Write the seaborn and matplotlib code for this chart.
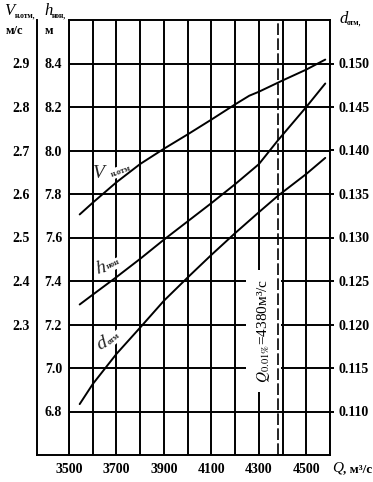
import numpy as np
import pandas as pd
import matplotlib
matplotlib.use("Agg")
import matplotlib.pyplot as plt
import seaborn as sns

# ---- data ----
q_v = [3545, 3600, 3700, 3800, 3900, 4000, 4100, 4200, 4260, 4300, 4400, 4500, 4580]
v_otm = [2.553, 2.580, 2.627, 2.669, 2.704, 2.737, 2.771, 2.806, 2.826, 2.835, 2.861, 2.886, 2.909]

q_h = [3545, 3600, 3700, 3800, 3900, 4000, 4100, 4200, 4300, 4380, 4500, 4580]
h_non = [7.292, 7.337, 7.418, 7.502, 7.590, 7.674, 7.758, 7.845, 7.937, 8.046, 8.200, 8.308]

q_d = [3545, 3600, 3700, 3800, 3900, 4000, 4100, 4200, 4300, 4380, 4500, 4580]
d_otm = [0.11085, 0.11315, 0.11662, 0.11965, 0.12273, 0.1254, 0.1280, 0.1305, 0.1329, 0.13478, 0.1373, 0.13915]

x_ticks = [3500, 3700, 3900, 4100, 4300, 4500]
x_grid = list(range(3500, 4601, 100))
h_ticks = [6.8, 7.0, 7.2, 7.4, 7.6, 7.8, 8.0, 8.2, 8.4]
v_ticks = [2.3, 2.4, 2.5, 2.6, 2.7, 2.8, 2.9]
d_ticks = [0.110, 0.115, 0.120, 0.125, 0.130, 0.135, 0.140, 0.145, 0.150]
q_design = 4380

df_v = pd.DataFrame({"Q": q_v, "V": v_otm})
df_h = pd.DataFrame({"Q": q_h, "h": h_non})
df_d = pd.DataFrame({"Q": q_d, "d": d_otm})

sns.set_style("white")
plt.rcParams["font.family"] = ["Liberation Serif", "DejaVu Serif"]
plt.rcParams["mathtext.fontset"] = "stix"

W, H = 373, 482
fig = plt.figure(figsize=(W / 100, H / 100), dpi=100)
L, R, T, B = 69, 330, 20, 455
ax = fig.add_axes([L / W, 1 - B / H, (R - L) / W, (B - T) / H])

LW = 1.4
BLK = "black"
TW = "bold"

# main axis: h
ax.set_xlim(3500, 4600)
ax.set_ylim(6.6, 8.6)
ax.set_xticks(x_grid)
ax.set_xticklabels([str(x) if x in x_ticks else "" for x in x_grid], fontweight=TW)
ax.set_yticks(h_ticks)
ax.set_yticklabels([f"{t:.1f}" for t in h_ticks], fontweight=TW)
ax.grid(True, color=BLK, lw=LW)
ax.set_axisbelow(True)
ax.tick_params(axis="both", length=0, labelsize=10, colors=BLK)
ax.tick_params(axis="x", pad=6)
ax.tick_params(axis="y", pad=5)
for s in ax.spines.values():
    s.set_linewidth(LW)
    s.set_color(BLK)

sns.lineplot(data=df_h, x="Q", y="h", ax=ax, color=BLK, lw=LW, zorder=4)
ax.set_xlabel("")
ax.set_ylabel("")

# twin for V (values only, labels on separate left axis)
ax_v = ax.twinx()
ax_v.set_ylim(2.0, 3.0)
sns.lineplot(data=df_v, x="Q", y="V", ax=ax_v, color=BLK, lw=LW)
ax_v.set_yticks([])
ax_v.set_ylabel("")
for s in ax_v.spines.values():
    s.set_visible(False)

# twin for d (right axis)
ax_d = ax.twinx()
ax_d.set_ylim(0.105, 0.155)
sns.lineplot(data=df_d, x="Q", y="d", ax=ax_d, color=BLK, lw=LW)
ax_d.set_yticks(d_ticks)
ax_d.set_yticklabels([f"{t:.3f}" for t in d_ticks], fontweight=TW)
ax_d.tick_params(axis="y", length=3, width=LW, pad=3, labelsize=10, colors=BLK)
ax_d.set_ylabel("")
for s in ax_d.spines.values():
    s.set_visible(False)

# separate left axis showing V scale
LV = 37
ax_vl = fig.add_axes([LV / W, 1 - B / H, (L - LV) / W, (B - T) / H])
ax_vl.set_ylim(2.0, 3.0)
ax_vl.set_yticks(v_ticks)
ax_vl.set_yticklabels([f"{t:.1f}" for t in v_ticks], fontweight=TW)
ax_vl.set_xticks([])
ax_vl.tick_params(axis="y", length=0, pad=5, labelsize=10, colors=BLK)
ax_vl.patch.set_visible(False)
ax_vl.spines["top"].set_visible(False)
ax_vl.spines["right"].set_visible(False)
for k in ("left", "bottom"):
    ax_vl.spines[k].set_linewidth(LW)
    ax_vl.spines[k].set_color(BLK)

# design discharge line
ax.axvline(q_design, color=BLK, lw=1.2, ls=(0, (7, 2)), zorder=5)
ax.text(4319, 7.17, "$Q_{0.01\\%}$=4380м³/с", rotation=90, ha="center", va="center",
        fontsize=11, color=BLK, zorder=3,
        bbox=dict(boxstyle="square,pad=0.6", fc="white", ec="none"))

# curve labels
wb = dict(boxstyle="square,pad=0.15", fc="white", ec="none")
ax.text(3628, 7.896, "V", fontsize=14, style="italic", ha="center", va="center", zorder=3)
ax.text(3717, 7.905, "н.отм", fontsize=6, fontweight="bold", rotation=20, ha="center", va="center",
        zorder=3, bbox=wb)
ax.text(3635, 7.458, "h", fontsize=14, style="italic", rotation=15, ha="center", va="center", zorder=3)
ax.text(3688, 7.475, "нон", fontsize=6, fontweight="bold", rotation=25, ha="center", va="center",
        zorder=3, bbox=wb)
ax.text(3639, 7.109, "d", fontsize=14, style="italic", rotation=25, ha="center", va="center", zorder=3)
ax.text(3690, 7.135, "отм", fontsize=6, fontweight="bold", rotation=40, ha="center", va="center",
        zorder=3, bbox=wb)

# axis titles
def ftext(x, y, s, **kw):
    fig.text(x / W, 1 - y / H, s, color=BLK, **kw)

ftext(4, 11, "V", fontsize=12, style="italic", ha="left", va="center")
ftext(15, 15, "н.отм,", fontsize=5.5, fontweight="bold", ha="left", va="center")
ftext(6, 31, "м/с", fontsize=9, fontweight="bold", ha="left", va="center")
ftext(44, 11, "h", fontsize=12, style="italic", ha="left", va="center")
ftext(52, 15, "нон,", fontsize=5.5, fontweight="bold", ha="left", va="center")
ftext(45, 31, "м", fontsize=9, fontweight="bold", ha="left", va="center")
ftext(339, 19, "d", fontsize=12, style="italic", ha="left", va="center")
ftext(347, 22, "отм,", fontsize=5.5, fontweight="bold", ha="left", va="center")
ftext(332, 468, "Q", fontsize=11, style="italic", ha="left", va="center")
ftext(343, 469, ", м³/с", fontsize=9.5, fontweight="bold", ha="left", va="center")

fig.savefig("out.png", dpi=100)
